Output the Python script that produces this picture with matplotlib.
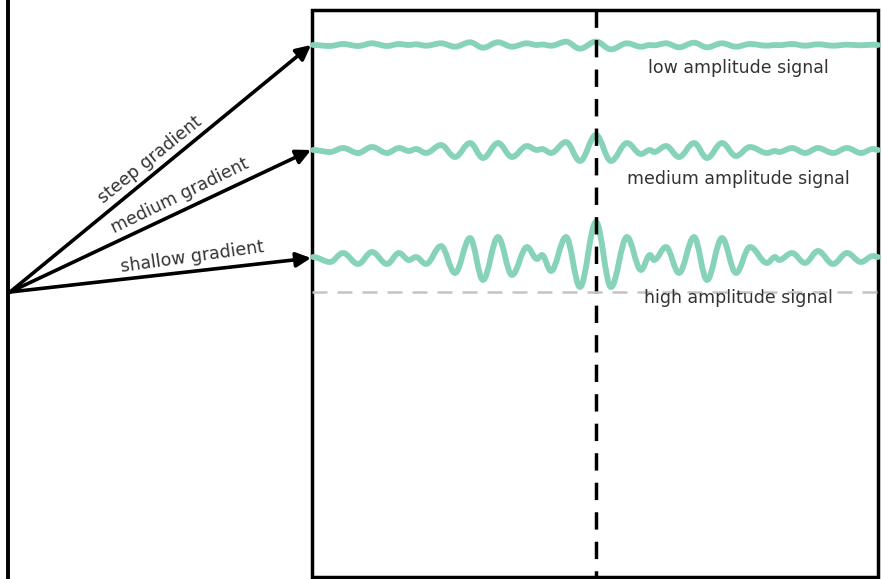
import matplotlib
matplotlib.use('Agg')
import matplotlib.pyplot as plt
from matplotlib.path import Path
from matplotlib.patches import PathPatch

# turning points of the three traces (pixel units, y downwards)
peak_x = [313, 330, 343, 358, 372, 387, 399, 409, 416, 426, 441, 455, 470, 483, 498,
          512, 527, 537, 542, 551, 566, 580, 596, 611, 627, 641, 650, 654, 666, 679,
          694, 707, 722, 736, 750, 767, 775, 779, 792, 805, 818, 833, 847, 861, 873, 878]
low_y = [45, 46, 44, 46, 43.3, 46, 44, 45, 44.3, 45.7, 43.3, 46.7, 42.3, 47.7, 42.3,
         46.7, 43.3, 45, 44.5, 45.7, 41.7, 48.7, 41.5, 49.3, 43.3, 46.7, 45, 45.3, 43.3, 47.3,
         42.7, 47.3, 43.3, 46.7, 44, 45.7, 45, 45.2, 44, 45.7, 44.3, 45.7, 44.7, 45.3, 44.7, 45]
medium_y = [150, 152, 148, 153, 147, 153, 148, 151, 149, 153, 145, 157, 143, 158, 143,
            157, 146, 150, 149, 153, 142, 161, 135, 161, 143, 154, 150, 152, 146, 157,
            143, 158, 143, 156, 147, 153, 151, 152, 148, 153, 148, 153, 148, 153, 149, 150]
high_y = [257, 262, 253, 264, 252, 264, 253, 260, 257, 264, 246, 273, 238, 280, 237,
          275, 247, 259, 255, 271, 237, 287, 222, 287, 237, 270, 255, 260, 247, 273,
          237, 280, 238, 273, 247, 263, 257, 260, 253, 263, 251, 264, 253, 262, 256, 257]

baselines = [45, 150, 258]
signal_labels = ['low amplitude signal', 'medium amplitude signal', 'high amplitude signal']
label_y = [68, 179, 298]
gradient_labels = ['steep gradient', 'medium gradient', 'shallow gradient']
gradient_pos = [(150, 160, 39), (180, 196, 26), (192, 257, 8)]

W, H = 882, 579
fig = plt.figure(figsize=(W / 100, H / 100), dpi=100)
ax = fig.add_axes([0, 0, 1, 1])
ax.set_xlim(0, W)
ax.set_ylim(H, 0)
ax.axis('off')

ink = '#000000'
teal = '#86d3b9'
txt = '#333333'


def smooth_trace(xs, ys):
    # cubic bezier through each turning point with flat tangents
    verts = [(xs[0], ys[0])]
    codes = [Path.MOVETO]
    for i in range(1, len(xs)):
        dx = xs[i] - xs[i - 1]
        verts += [(xs[i - 1] + 0.36 * dx, ys[i - 1]),
                  (xs[i] - 0.36 * dx, ys[i]),
                  (xs[i], ys[i])]
        codes += [Path.CURVE4] * 3
    return Path(verts, codes)


# left wall and frame
ax.plot([8, 8], [0, H], color=ink, lw=2.8, solid_capstyle='butt')
ax.add_patch(plt.Rectangle((312, 10), 566, 567, fill=False, ec=ink, lw=2.5))

# reference lines
ax.plot([596, 596], [10, 577], color=ink, lw=2.5, dashes=(5, 3.5))
ax.plot([312, 878], [292, 292], color='#c4c4c4', lw=1.8, dashes=(6, 4))

# traces
for ys in (low_y, medium_y, high_y):
    ax.add_patch(PathPatch(smooth_trace(peak_x, ys), fc='none', ec=teal, lw=4.2,
                           capstyle='round', joinstyle='round'))

for lab, y in zip(signal_labels, label_y):
    ax.text(738, y, lab, ha='center', va='center', fontsize=12.5, color=txt,
            family='DejaVu Sans')

# arrows from the source point
for b in baselines:
    ax.annotate('', xy=(311, b), xytext=(10, 292),
                arrowprops=dict(arrowstyle='-|>', color=ink, lw=2.6,
                                mutation_scale=22, shrinkA=0, shrinkB=0))

for lab, (x, y, ang) in zip(gradient_labels, gradient_pos):
    ax.text(x, y, lab, ha='center', va='center', rotation=ang, fontsize=12.5,
            color=txt, family='DejaVu Sans', rotation_mode='anchor')

fig.savefig('out.png', dpi=100)
